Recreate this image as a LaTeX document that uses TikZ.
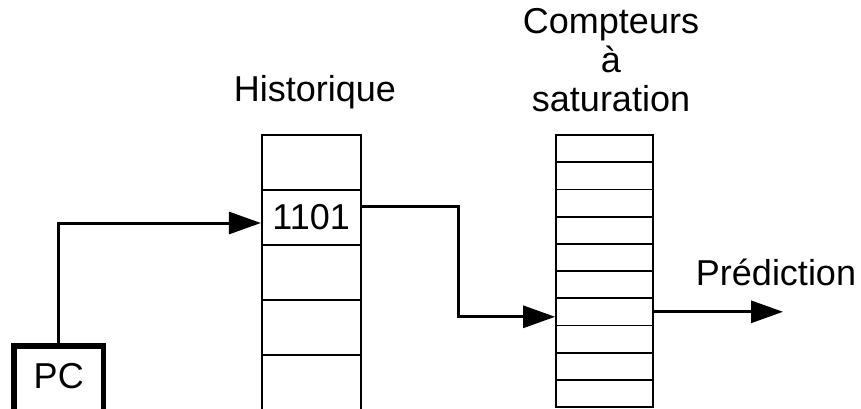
\documentclass[tikz,border=0pt]{standalone}
\usepackage{fontspec}
\setmainfont{Liberation Sans}
\usepackage{tikz}
\usetikzlibrary{arrows.meta}

\begin{document}
\begin{tikzpicture}[x=1pt, y=-1pt,
        every node/.style={font=\fontsize{36}{39}\selectfont, inner sep=0pt},
        hcell/.style={draw, line width=1.6pt, minimum width=99pt, minimum height=55pt},
        ccell/.style={draw, line width=1.8pt, minimum width=97.3pt, minimum height=27.2pt},
        conn/.style={line width=3pt, -{Triangle[length=32pt, width=22pt]}}]
        \useasboundingbox (0, 0) rectangle (861, 409);
        \clip (0, 0) rectangle (861, 409);

        \node [anchor=base] (histlabel) at (315, 101.7) {Historique};
        \node [anchor=north, align=center] (cntlabel) at (611, 8) {Compteurs\\à\\saturation};

        \node [hcell] (H1) at (311.2, 162.5) {};
        \node [hcell] (H2) at (311.2, 217.5) {1101};
        \node [hcell] (H3) at (311.2, 272.5) {};
        \node [hcell] (H4) at (311.2, 327.5) {};
        \node [hcell] (H5) at (311.2, 382.5) {};

        \node [ccell] (C1) at (604.7, 148.6) {};
        \node [ccell] (C2) at (604.7, 175.8) {};
        \node [ccell] (C3) at (604.7, 203.0) {};
        \node [ccell] (C4) at (604.7, 230.2) {};
        \node [ccell] (C5) at (604.7, 257.4) {};
        \node [ccell] (C6) at (604.7, 284.6) {};
        \node [ccell] (C7) at (604.7, 311.8) {};
        \node [ccell] (C8) at (604.7, 339.0) {};
        \node [ccell] (C9) at (604.7, 366.2) {};
        \node [ccell] (C10) at (604.7, 393.4) {};

        \node [draw, line width=5.5pt, minimum width=89.5pt, minimum height=70pt,
               text height=26pt, text depth=12pt] (PC) at (58.75, 381) {PC};

        \node [anchor=base] (predlabel) at (776, 285) {Prédiction};
        \coordinate (pred) at (783, 311.8);

        \draw [conn] (PC.north) |- ([yshift=-5.5pt]H2.west);
        \draw [conn] ([yshift=11.5pt]H2.east) -- ++(96.8, 0) |- ([yshift=-5pt]C7.west);
        \draw [conn] (C7.east) -- (pred);
    \end{tikzpicture}
\end{document}
